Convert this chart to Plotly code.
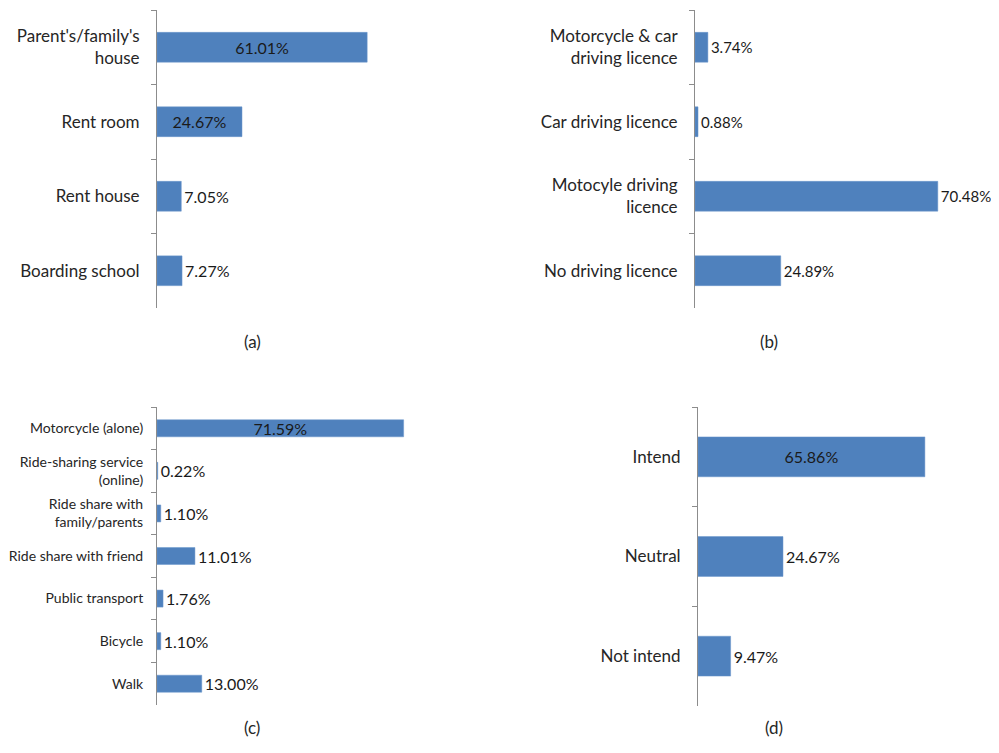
import plotly.graph_objects as go

# (a) place of residence
residence_labels = ["Parent's/family's<br>house", "Rent room", "Rent house", "Boarding school"]
residence_values = [61.01, 24.67, 7.05, 7.27]

# (b) driving licence
licence_labels = ["Motorcycle & car<br>driving licence", "Car driving licence", "Motocyle driving<br>licence", "No driving licence"]
licence_values = [3.74, 0.88, 70.48, 24.89]

# (c) travel mode
mode_labels = ["Motorcycle (alone)", "Ride-sharing service<br>(online)", "Ride share with<br>family/parents",
               "Ride share with friend", "Public transport", "Bicycle", "Walk"]
mode_values = [71.59, 0.22, 1.10, 11.01, 1.76, 1.10, 13.00]

# (d) intention
intent_labels = ["Intend", "Neutral", "Not intend"]
intent_values = [65.86, 24.67, 9.47]

panel_tags = ["(a)", "(b)", "(c)", "(d)"]

# page body has an 8px margin, so the figure is shifted by that much
OFF = 8
W, H = 999 - OFF, 753 - OFF
BAR = '#4f81bd'
FONT = 'Lato'
XMAX = 80
PX_PER = 3.445  # pixels per percent


def px_x(p):
    return (p - OFF) / W


def px_y(p):
    return 1 - (p - OFF) / H


# left edge (px), top and bottom of axis (px), label font size, label standoff,
# value font size, bars with inside labels
panels = [
    (residence_labels, residence_values, 157, 10, 308, 17, 13, 16, 2),
    (licence_labels, licence_values, 695, 10, 308, 17, 13, 15, 0),
    (mode_labels, mode_values, 157, 407, 705, 14, 10, 16, 1),
    (intent_labels, intent_values, 698, 407, 706, 17, 13, 16, 1),
]
tag_pos = [(242, 342), (780, 342), (242, 740), (785, 740)]

fig = go.Figure()
layout = {}
for i, (labels, values, x0, y0, y1, fs, standoff, vfs, n_in) in enumerate(panels, start=1):
    sfx = '' if i == 1 else str(i)
    fig.add_trace(go.Bar(
        y=labels, x=values, orientation='h', width=0.4,
        marker=dict(color=BAR, line=dict(color='#6a96cc', width=0.5)),
        text=[f"{v:.2f}%" for v in values],
        textposition=['inside' if k < n_in else 'outside' for k in range(len(values))],
        insidetextanchor='middle', constraintext='none', cliponaxis=False,
        textfont=dict(family=FONT, size=vfs, color='#1a1a1a'),
        xaxis='x' + sfx, yaxis='y' + sfx, showlegend=False, hoverinfo='skip'))
    layout['xaxis' + sfx] = dict(domain=[px_x(x0), px_x(x0 + XMAX * PX_PER)], range=[0, XMAX],
                                 visible=False, anchor='y' + sfx)
    layout['yaxis' + sfx] = dict(domain=[px_y(y1), px_y(y0)], anchor='x' + sfx,
                                 type='category', categoryorder='array', categoryarray=labels,
                                 range=[len(labels) - 0.5, -0.5],
                                 showline=True, linecolor='#8c8c8c', linewidth=1,
                                 ticks='outside', tickson='boundaries', ticklen=5, tickcolor='#8c8c8c',
                                 ticklabelstandoff=standoff, showgrid=False, zeroline=False,
                                 tickfont=dict(family=FONT, size=fs, color='#262626'))

for tag, (tx, ty) in zip(panel_tags, tag_pos):
    fig.add_annotation(text=tag, x=px_x(tx), y=px_y(ty), xref='paper', yref='paper',
                       showarrow=False, font=dict(family=FONT, size=17, color='#262626'))

fig.update_layout(**layout)
fig.update_layout(width=W, height=H, margin=dict(l=0, r=0, t=0, b=0, autoexpand=False),
                  plot_bgcolor='white', paper_bgcolor='white')

fig.write_html("out.html")
